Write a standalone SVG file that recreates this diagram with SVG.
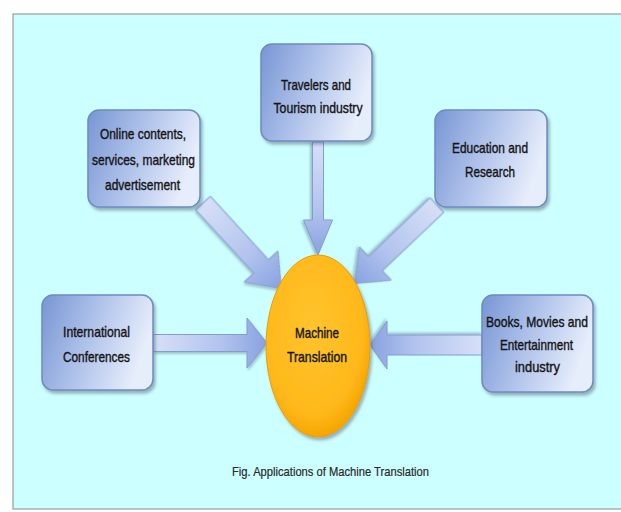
<svg xmlns="http://www.w3.org/2000/svg" width="621" height="512" viewBox="0 0 621 512">
<defs>
<linearGradient id="boxG" x1="0" y1="0" x2="1" y2="0.3">
<stop offset="0" stop-color="#7896d4"/>
<stop offset="0.55" stop-color="#b4c6ec"/>
<stop offset="1" stop-color="#e6edfb"/>
</linearGradient>
<linearGradient id="arrG" x1="0" y1="0" x2="1" y2="0">
<stop offset="0" stop-color="#d6e0f7"/>
<stop offset="0.6" stop-color="#b2c3ee"/>
<stop offset="1" stop-color="#88a2e0"/>
</linearGradient>
<radialGradient id="ellG" cx="0.45" cy="0.4" r="0.6">
<stop offset="0" stop-color="#ffc42e"/>
<stop offset="0.8" stop-color="#ffb81a"/>
<stop offset="1" stop-color="#f5a600"/>
</radialGradient>
<filter id="sh" x="-20%" y="-20%" width="140%" height="140%">
<feDropShadow dx="2" dy="3" stdDeviation="1.5" flood-color="#4a5a6a" flood-opacity="0.45"/>
</filter>
<filter id="sh2" x="-20%" y="-20%" width="140%" height="140%">
<feDropShadow dx="1.5" dy="2" stdDeviation="1.2" flood-color="#4a5a6a" flood-opacity="0.35"/>
</filter>
</defs>
<style>
.box{fill:url(#boxG);stroke:#6f8bc2;stroke-width:1.5;filter:url(#sh)}
.arr{fill:url(#arrG);stroke:#849cd2;stroke-width:1;filter:url(#sh2)}
.t{font-family:"Liberation Sans",Arial,sans-serif;font-size:15px;fill:#151515;stroke:#151515;stroke-width:0.4;text-anchor:middle}
.cap{font-family:"Liberation Sans",Arial,sans-serif;font-size:13px;fill:#2a2a2a;stroke:#2a2a2a;stroke-width:0.2;text-anchor:middle}
</style>
<rect x="0" y="0" width="621" height="512" fill="#ffffff"/>
<rect x="13" y="14" width="610" height="495" fill="#ccffff" stroke="#9a9a9a" stroke-width="1.2"/>

<g id="connectors">
<polygon class="arr" transform="translate(153,343)" points="0,-8.5 94,-8.5 94,-25 114,0 94,25 94,8.5 0,8.5"/>
<polygon class="arr" transform="translate(482,345) rotate(180)" points="0,-10 95,-10 95,-24 112,0 95,24 95,10 0,10"/>
<polygon class="arr" transform="translate(318,142) rotate(90)" points="0,-5.5 78,-5.5 78,-14.5 113,0 78,14.5 78,5.5 0,5.5"/>
<polygon class="arr" transform="translate(203,203) rotate(47.5)" points="0,-10 86,-10 86,-23 116,0 86,23 86,10 0,10"/>
<polygon class="arr" transform="translate(437,205) rotate(136.4)" points="0,-10 85,-10 85,-23 114,0 85,23 85,10 0,10"/>
</g>

<g id="node-travelers">
<rect class="box" x="261" y="44" width="111" height="97" rx="11"/>
<text class="t" x="316" y="90" textLength="70" lengthAdjust="spacingAndGlyphs">Travelers and</text>
<text class="t" x="318" y="113" textLength="89" lengthAdjust="spacingAndGlyphs">Tourism industry</text>
</g>

<g id="node-online">
<rect class="box" x="88" y="110" width="112" height="97" rx="11"/>
<text class="t" x="143" y="139" textLength="86" lengthAdjust="spacingAndGlyphs">Online contents,</text>
<text class="t" x="143.5" y="164.5" textLength="103" lengthAdjust="spacingAndGlyphs">services, marketing</text>
<text class="t" x="142.5" y="190" textLength="75" lengthAdjust="spacingAndGlyphs">advertisement</text>
</g>

<g id="node-education">
<rect class="box" x="435" y="110" width="112" height="97" rx="11"/>
<text class="t" x="490" y="153" textLength="76" lengthAdjust="spacingAndGlyphs">Education and</text>
<text class="t" x="490" y="177" textLength="50" lengthAdjust="spacingAndGlyphs">Research</text>
</g>

<g id="node-international">
<rect class="box" x="42" y="295" width="111" height="95" rx="11"/>
<text class="t" x="96.5" y="337" textLength="67" lengthAdjust="spacingAndGlyphs">International</text>
<text class="t" x="96.5" y="362" textLength="67" lengthAdjust="spacingAndGlyphs">Conferences</text>
</g>

<g id="node-books">
<rect class="box" x="482" y="295" width="111" height="97" rx="11"/>
<text class="t" x="537" y="327" textLength="102" lengthAdjust="spacingAndGlyphs">Books, Movies and</text>
<text class="t" x="536.5" y="350" textLength="73" lengthAdjust="spacingAndGlyphs">Entertainment</text>
<text class="t" x="537.5" y="372" textLength="45" lengthAdjust="spacingAndGlyphs">industry</text>
</g>

<g id="node-mt">
<ellipse cx="318" cy="346" rx="52" ry="91" fill="url(#ellG)" stroke="#e89e00" stroke-width="1" filter="url(#sh)"/>
<text class="t" x="317" y="338" textLength="44" lengthAdjust="spacingAndGlyphs">Machine</text>
<text class="t" x="317" y="362" textLength="60" lengthAdjust="spacingAndGlyphs">Translation</text>
</g>

<text class="cap" x="330.5" y="476" textLength="197" lengthAdjust="spacingAndGlyphs">Fig. Applications of Machine Translation</text>
</svg>
